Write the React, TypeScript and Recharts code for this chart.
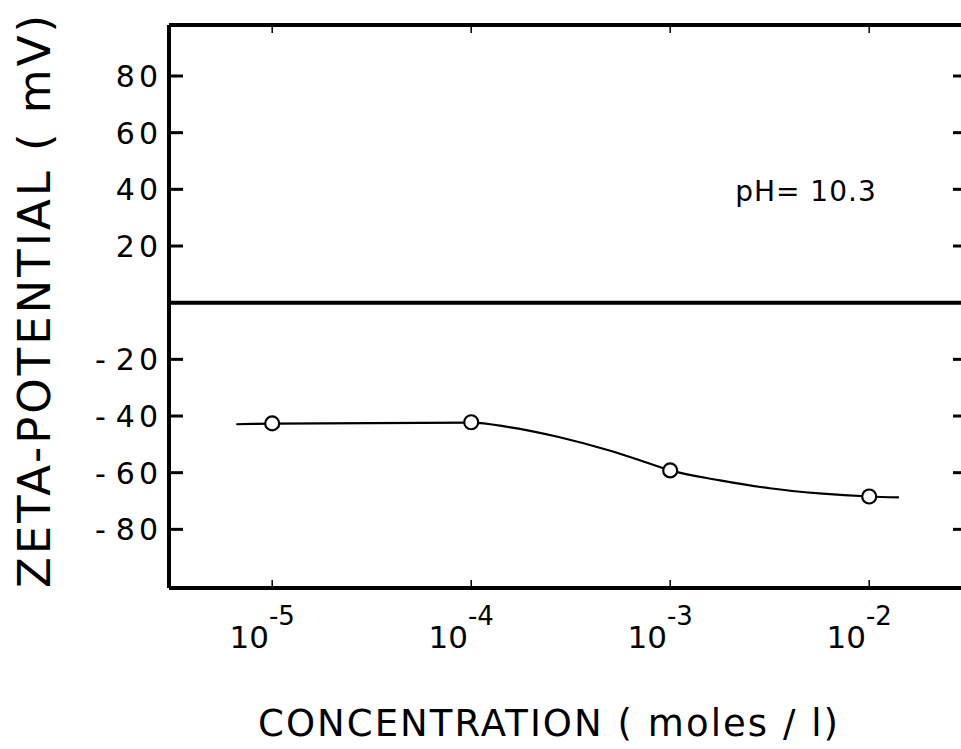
import React from 'react';
import { ComposedChart, Line, Scatter, XAxis, YAxis, ReferenceLine, ReferenceDot } from 'recharts';

// measured points (open circles)
const concentrations = [1e-5, 1e-4, 1e-3, 1e-2];
const zetaValues = [-42.6, -42.2, -59.2, -68.4];

// hand drawn curve
const curveConcentrations = [6.6e-6, 1e-5, 1e-4, 1.55e-4, 2.75e-4, 4.9e-4, 7.6e-4, 1e-3, 1.78e-3, 3.16e-3, 5.6e-3, 1e-2, 1.41e-2];
const curveZeta = [-42.9, -42.7, -42.3, -43.9, -47.4, -52.1, -56.4, -59.2, -62.7, -65.5, -67.3, -68.4, -68.7];

const xTicks = [1e-5, 1e-4, 1e-3, 1e-2];
const yTicks = [80, 60, 40, 20, -20, -40, -60, -80];
const xDomain = [3.03e-6, 0.0296];
const yDomain = [-100.7, 98];

const phNote = { conc: 4.81e-3, zeta: 39.4, text: 'pH= 10.3' };

const points = concentrations.map((c, i) => ({ conc: c, zeta: zetaValues[i] }));
const curve = curveConcentrations.map((c, i) => ({ conc: c, zeta: curveZeta[i] }));

const FONT = '"DejaVu Sans", sans-serif';

const LeftTick = ({ x, y, payload }: any) => {
  const v = Number(payload.value);
  return (
    <g>
      <line x1={x} x2={x + 14} y1={y} y2={y} stroke="#000" strokeWidth={3} />
      <text x={x - 7} y={y + 11} textAnchor="end" fontSize={30} fontFamily={FONT} fill="#000" letterSpacing={4}>
        {v < 0 && <tspan>-</tspan>}
        <tspan dx={v < 0 ? 6 : 0}>{Math.abs(v)}</tspan>
      </text>
    </g>
  );
};

const RightTick = ({ x, y }: any) => (
  <line x1={x - 10} x2={x} y1={y} y2={y} stroke="#000" strokeWidth={3} />
);

const TopTick = ({ x, y }: any) => (
  <line x1={x} x2={x} y1={y} y2={y + 8} stroke="#000" strokeWidth={1.5} />
);

const BottomTick = ({ x, y, payload }: any) => {
  const exp = Math.round(Math.log10(payload.value));
  return (
    <g>
      <line x1={x} x2={x} y1={y - 8} y2={y} stroke="#000" strokeWidth={1.5} />
      <text x={x - 10} y={y + 60} textAnchor="middle" fontFamily={FONT} fill="#000">
        <tspan fontSize={31}>10</tspan>
        <tspan fontSize={26} dy={-23}>{`-${Math.abs(exp)}`}</tspan>
      </text>
    </g>
  );
};

const XTitle = ({ viewBox }: any) => (
  <text x={viewBox.x + viewBox.width / 2 - 18} y={viewBox.y + 148} textAnchor="middle"
    fontSize={37} fontFamily={FONT} fill="#000" textLength={580}>
    CONCENTRATION ( moles / l)
  </text>
);

const YTitle = ({ viewBox }: any) => {
  const cx = 50;
  const cy = viewBox.y + viewBox.height / 2 - 5;
  return (
    <text x={cx} y={cy} textAnchor="middle" fontSize={45} fontFamily={FONT} fill="#000"
      transform={`rotate(-90, ${cx}, ${cy})`} textLength={573}>
      ZETA-POTENTIAL ( mV)
    </text>
  );
};

const PhLabel = ({ viewBox }: any) => (
  <text x={viewBox.x + viewBox.width / 2} y={viewBox.y + viewBox.height / 2 + 10} textAnchor="middle"
    fontSize={28} fontFamily={FONT} fill="#000" letterSpacing={1}>
    {phNote.text}
  </text>
);

const OpenCircle = ({ cx, cy }: any) => (
  <circle cx={cx} cy={cy} r={7} fill="#fff" stroke="#000" strokeWidth={2.2} />
);

const App: React.FC = () => {
  return (
    <div style={{ position: 'fixed', left: 0, top: 0, width: 961, height: 749, overflow: 'hidden', background: '#fff' }}>
      <ComposedChart width={980} height={749} margin={{ top: 15, right: 7, left: 0, bottom: 0 }}>
        <XAxis
          dataKey="conc"
          type="number"
          scale="log"
          domain={xDomain}
          allowDataOverflow
          ticks={xTicks}
          interval={0}
          height={161}
          tickSize={0}
          tickMargin={0}
          tickLine={false}
          tick={<BottomTick />}
          axisLine={{ stroke: '#000', strokeWidth: 4 }}
          label={<XTitle />}
        />
        <XAxis
          xAxisId="top"
          orientation="top"
          dataKey="conc"
          type="number"
          scale="log"
          domain={xDomain}
          allowDataOverflow
          ticks={xTicks}
          interval={0}
          height={10}
          tickSize={0}
          tickMargin={0}
          tickLine={false}
          tick={<TopTick />}
          axisLine={{ stroke: '#000', strokeWidth: 4 }}
        />
        <YAxis
          type="number"
          domain={yDomain}
          allowDataOverflow
          ticks={yTicks}
          interval={0}
          width={169}
          tickSize={0}
          tickMargin={0}
          tickLine={false}
          tick={<LeftTick />}
          axisLine={{ stroke: '#000', strokeWidth: 4 }}
          label={<YTitle />}
        />
        <YAxis
          yAxisId="right"
          orientation="right"
          type="number"
          domain={yDomain}
          allowDataOverflow
          ticks={yTicks}
          interval={0}
          width={10}
          tickSize={0}
          tickMargin={0}
          tickLine={false}
          tick={<RightTick />}
          axisLine={{ stroke: '#000', strokeWidth: 4 }}
        />
        <ReferenceLine y={0} stroke="#000" strokeWidth={4} />
        <Line
          data={curve}
          dataKey="zeta"
          type="monotone"
          stroke="#000"
          strokeWidth={2.2}
          dot={false}
          activeDot={false}
          isAnimationActive={false}
        />
        <Scatter data={points} dataKey="zeta" shape={<OpenCircle />} isAnimationActive={false} />
        <ReferenceDot x={phNote.conc} y={phNote.zeta} r={0} fill="none" stroke="none" label={<PhLabel />} />
      </ComposedChart>
    </div>
  );
};

export default App;
